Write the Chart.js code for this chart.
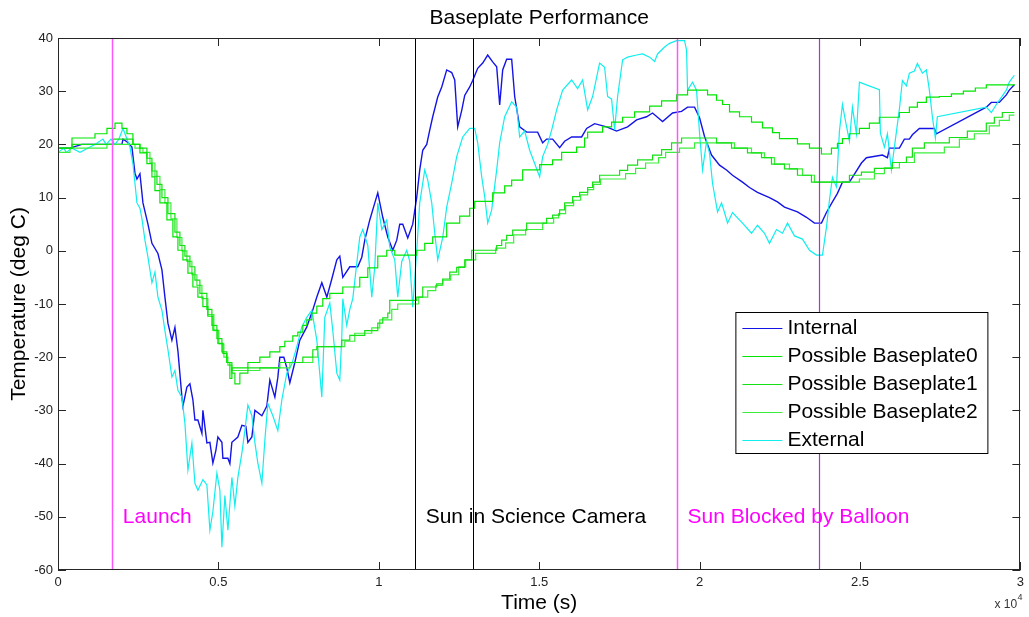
<!DOCTYPE html>
<html>
<head>
<meta charset="utf-8">
<script src="https://cdn.jsdelivr.net/npm/chart.js@4.4.1/dist/chart.umd.min.js"></script>
<style>
html,body{margin:0;padding:0;background:#fff;}
#wrap{width:1029px;height:617px;position:relative;}
</style>
</head>
<body>
<div id="wrap"><canvas id="c"></canvas></div>
<script>
// ---- data: [time (s), temperature (deg C)] ----
const internal = [[0,19.3],[374,19.3],[748,20],[1994,20],[2025,21],[2149,20.5],[2305,19.5],[2399,14.6],[2461,13.5],[2554,14.5],[2648,9],[2804,5],[2928,1.4],[3115,-0.5],[3240,-3.6],[3333,-8.7],[3427,-13.6],[3551,-16.8],[3645,-14.4],[3738,-18.8],[3863,-27.5],[3894,-29.2],[4018,-25.6],[4112,-25],[4205,-28],[4268,-31.8],[4361,-31.8],[4486,-34.3],[4517,-30],[4641,-36.1],[4735,-36],[4828,-39.9],[4922,-37.5],[4984,-35],[5109,-36],[5140,-39],[5296,-39],[5358,-40],[5420,-36],[5607,-35],[5732,-32.8],[5856,-33],[5919,-36],[6043,-35],[6137,-30],[6355,-31],[6510,-29.2],[6604,-24.3],[6760,-27.5],[6853,-23.8],[6915,-20],[7040,-20],[7133,-22],[7227,-24.8],[7383,-21],[7538,-16.8],[7756,-14.3],[7943,-11.1],[8068,-8.7],[8224,-6],[8380,-8.7],[8535,-5.3],[8691,-1.7],[8784,-1],[8878,-5],[9096,-3],[9345,-3],[9470,-1.2],[9563,2],[9719,5.8],[9875,9],[9968,10.9],[10124,6.3],[10280,2.6],[10435,0.1],[10560,2],[10653,5],[10747,5],[10903,2.4],[11058,5],[11183,10.1],[11276,15.2],[11370,18.9],[11494,20],[11588,22.7],[11681,25.2],[11837,28.9],[11962,30.8],[12117,34],[12273,33.5],[12367,32.1],[12460,23.3],[12585,26.4],[12678,29.2],[12834,30.8],[12927,32],[13083,34.3],[13239,35.3],[13395,36.8],[13550,35.5],[13675,34.6],[13768,27.4],[13862,34],[13986,36],[14142,36],[14236,29],[14391,23.3],[14609,22.3],[14952,22.3],[15108,20.3],[15232,21],[15419,21],[15637,19.4],[15793,20.6],[16011,21.4],[16323,21.4],[16478,23],[16728,23.9],[17101,23.3],[17413,22.5],[17756,23.3],[18036,24.6],[18347,25.2],[18534,25.9],[18846,24.3],[19157,25.9],[19438,26.2],[19625,27],[19843,27],[19999,25],[20154,21.5],[20372,18],[20621,16.1],[20839,15.2],[21026,14.2],[21338,12.9],[21556,11.9],[21805,11],[22178,10],[22428,9.2],[22646,8.2],[23051,7.3],[23332,6.3],[23581,5.2],[23799,5.2],[23954,7.2],[24141,9.2],[24297,10.8],[24453,12.9],[24671,12.9],[25045,16.5],[25200,17.5],[25699,18],[25855,17.5],[25917,19.3],[26229,19.3],[26384,21],[26540,21],[26633,21.8],[26851,23],[27319,23],[27381,22],[28938,27],[29094,27.9],[29344,27.9],[29561,29.3],[29655,30.2],[29811,31.2]];

const baseplate0 = [[0,19.3],[436,21.2],[1153,22],[1526,23],[1776,24],[1994,23],[2149,22],[2336,20],[2554,18.4],[2772,16.4],[2928,13.9],[3022,11.3],[3177,9],[3395,5.8],[3582,2.6],[3738,0.1],[3894,-1.7],[4050,-4.2],[4205,-6.8],[4361,-8.7],[4517,-10.5],[4672,-12.3],[4828,-14.9],[4984,-17.4],[5140,-19.3],[5264,-21],[5358,-24],[5420,-22],[5919,-21],[6292,-20],[6604,-19],[6915,-18],[7071,-17],[7320,-16],[7476,-15.3],[7632,-14],[7756,-13],[7912,-11.7],[8068,-10.4],[8255,-9],[8473,-8],[8878,-6.8],[9407,-5],[9657,-3.2],[9968,-1],[10248,0.1],[10498,-0.8],[11183,0.1],[11432,1.4],[11681,2.6],[12117,5.2],[12522,6.5],[12834,8],[12990,9.3],[13550,10.9],[13924,12.2],[14142,13.3],[14485,15.2],[15014,16.2],[15419,17.1],[15700,18.5],[16167,19.5],[16416,21.2],[16510,22.3],[16977,23.3],[17257,24.2],[17600,25.1],[17974,26.1],[18441,27.2],[18815,28.2],[19282,29.3],[19625,30.2],[20248,29.3],[20528,28.3],[20715,27.5],[20933,26.1],[21245,25.2],[21618,24.2],[21961,23.1],[22272,22.2],[22490,21.1],[23051,20.1],[23425,19.3],[23799,18.2],[24110,19.3],[24297,20.2],[24453,21.1],[24671,22],[24982,23],[25294,24],[25605,25.1],[26229,26],[26540,27],[26789,27.9],[27069,28.9],[27474,29],[27848,29.5],[28222,30],[28596,30.6],[28938,31.2],[29811,31.3]];

const baseplate1 = [[0,19.3],[436,20],[1526,20],[1713,21],[2149,21],[2336,20],[2554,19.3],[2772,17.4],[2928,15],[3084,12.5],[3240,10],[3427,7],[3645,3.5],[3800,1],[3956,-1],[4112,-3],[4268,-5.5],[4423,-8],[4641,-11],[4797,-14],[4953,-16.5],[5109,-19],[5264,-21],[5420,-23],[5514,-25],[5669,-23],[5919,-22],[6915,-21],[7632,-20],[7943,-18.6],[8068,-18],[8847,-16.8],[9096,-15.9],[9563,-15],[9968,-13.6],[10124,-12.6],[10280,-11.7],[10342,-9.3],[11183,-8.7],[11370,-6.8],[11806,-6.2],[11993,-5.3],[12211,-4],[12429,-3.1],[12678,-1.7],[12896,0.1],[13675,1],[13831,2],[13986,2.9],[14174,3.9],[14609,5.2],[15232,6.1],[15419,6.7],[15637,7.7],[15793,9],[16042,10.2],[16260,11],[16510,11.9],[16665,12.9],[16883,14.2],[17506,15.1],[17756,16.1],[18067,17.1],[18534,18],[18815,19],[19126,20.3],[19438,21.2],[20528,20.3],[20995,19.3],[21493,18.4],[21930,17.5],[22241,16.3],[22646,15.4],[23051,14.2],[23487,12.9],[24671,14.2],[25045,14.8],[25450,15.5],[26010,16.6],[26447,17.6],[26633,19.3],[27007,20.3],[27785,21.3],[28347,22.5],[28938,24],[29188,25.1],[29437,26],[29811,26]];

const baseplate2 = [[0,18.5],[374,19.3],[1308,19.3],[1526,20],[2243,20],[2399,19.3],[2648,18.5],[2866,16.5],[3022,14],[3177,11.5],[3333,9],[3520,6],[3707,2.5],[3863,0],[4018,-2],[4174,-4.5],[4330,-6.5],[4486,-9],[4672,-12],[4859,-15],[5015,-17.5],[5171,-20],[5296,-21.5],[5420,-22.5],[6292,-22],[7227,-21],[7943,-20],[8099,-18],[8940,-17],[9251,-15.5],[9781,-14.5],[10030,-13],[10404,-11],[10591,-10],[11245,-8.7],[11526,-7.5],[11775,-6.5],[11993,-5.5],[12242,-4.5],[12491,-3],[12709,-1.7],[13021,-0.5],[13644,0.5],[13955,1.5],[14205,3],[14578,4],[15108,5.2],[15450,6.2],[15606,7],[15824,8.5],[16073,9.5],[16292,10.5],[16510,11.5],[16697,12.5],[16914,13.5],[17693,14.5],[18005,15.5],[18316,16.5],[18721,17.5],[18940,18.5],[19375,19.3],[19843,20.3],[21089,19.3],[21618,18.4],[22023,17.5],[22335,16.3],[22802,15.4],[23207,14.2],[23581,12.9],[24982,13.5],[25450,14.5],[25761,15.6],[26229,16.6],[26696,18.4],[27630,19.5],[28098,21],[28565,22],[29032,23.5],[29344,24.5],[29655,25.5],[29811,25.5]];

const external = [[0,18.5],[186,19.3],[250,18.5],[436,19.3],[685,18.5],[1000,19.5],[1153,20],[1400,21],[1500,20],[1651,21],[1776,20],[1900,21],[2025,23],[2150,21],[2243,19.5],[2336,16.4],[2461,9],[2554,8],[2617,6],[2710,2],[2804,-1.2],[2928,-6],[3022,-4],[3115,-8.7],[3240,-11.2],[3333,-15],[3427,-18.6],[3551,-23.7],[3645,-22.5],[3738,-26.2],[3863,-27.5],[3956,-32.4],[4050,-41.2],[4174,-36.1],[4268,-43.7],[4361,-45],[4517,-43],[4641,-44],[4735,-52.5],[4828,-49],[4953,-41.8],[5046,-45],[5109,-55.7],[5202,-46],[5296,-52.5],[5420,-42.6],[5514,-48],[5607,-42.6],[5732,-38],[5825,-33.8],[5919,-29],[6043,-31],[6137,-36],[6230,-39.9],[6355,-43.7],[6448,-35.6],[6542,-28.7],[6697,-31],[6853,-33.8],[6978,-28],[7133,-23],[7289,-21.3],[7445,-18],[7601,-14.3],[7756,-12.5],[7912,-11.2],[8068,-16.8],[8224,-27.5],[8317,-12.5],[8473,-9.8],[8566,-15],[8691,-23],[8784,-24.3],[8847,-16],[8878,-9],[9002,-14],[9096,-11],[9189,-9],[9407,2.6],[9501,4],[9657,1],[9781,-8.7],[9875,-3],[9968,9],[10093,4],[10248,5.8],[10342,0.7],[10498,-1.7],[10591,-8.7],[10716,-2],[10871,0.1],[10965,-2],[11058,-10.6],[11183,0],[11276,9],[11432,15.2],[11526,13.3],[11650,9],[11744,3.3],[11837,-1.7],[11993,2.5],[12117,8.2],[12273,12.7],[12429,17.7],[12616,21.4],[12834,23],[12990,23],[13083,20.3],[13208,13.9],[13301,10.2],[13395,5.2],[13519,7.7],[13675,15.2],[13768,20.3],[13924,25.2],[14142,28],[14298,27],[14391,21.4],[14547,22.5],[14703,18.9],[14859,16.4],[15014,13.9],[15108,17.7],[15264,20],[15388,22.7],[15544,26.5],[15731,30.2],[16011,32.1],[16198,30.5],[16354,32.1],[16510,26.5],[16665,29],[16883,35.3],[17039,34.5],[17133,29],[17257,28.5],[17351,22.7],[17444,29],[17600,35.9],[17756,36.4],[18036,36.8],[18223,37],[18441,36.4],[18597,35.6],[18690,37],[18908,38.3],[19064,39],[19282,39.5],[19531,39.5],[19594,37.7],[19625,30.2],[19780,31.7],[19905,30.2],[19999,22.1],[20092,15.2],[20217,20.5],[20310,18.3],[20403,12.7],[20559,7.3],[20684,9],[20777,7.2],[20871,5.2],[21026,7.2],[21182,6.2],[21338,5.2],[21618,3.3],[21805,4.8],[22023,3.3],[22178,1.4],[22397,4],[22584,3.3],[22740,5.2],[22958,2.8],[23207,2.2],[23425,0.1],[23643,-0.8],[23830,-0.8],[23954,4.4],[24048,9.5],[24141,13.8],[24266,12],[24359,22.5],[24453,27.5],[24577,23.5],[24671,20.6],[24764,27],[24889,22],[24982,31.7],[25200,31.2],[25605,30.3],[25636,22.1],[25761,19.5],[25855,22],[25979,15.2],[26073,19.5],[26229,26.7],[26322,32],[26447,31],[26540,33.4],[26696,33.8],[26789,35.2],[26945,33.4],[27069,34],[27163,30.2],[27256,25.2],[27350,21.2],[27412,25.2],[28938,27],[29094,26],[29250,27.5],[29561,30.2],[29655,31.7],[29811,33]];

const seriesLabels = ['Internal','Possible Baseplate0','Possible Baseplate1','Possible Baseplate2','External'];
const eventTimes = [1682, 11121, 12928, 19283, 23707];
const eventTexts = ['Launch','Sun in Science Camera','Sun Blocked by Balloon'];
const eventTextTimes = [2022, 11461, 19623];
const eventTextTemp = -50;
const xTicks = [0, 5000, 10000, 15000, 20000, 25000, 30000];
const yTicks = [-60, -50, -40, -30, -20, -10, 0, 10, 20, 30, 40];

// ---- styles ----
const FONT = '"Liberation Sans", Arial, Helvetica, sans-serif';
const colors = ['#1414e6', '#00e600', '#14e014', '#3cee3c', '#10eeee'];
const eventColors = ['#ff55ff', '#000000', '#000000', '#ff55ff', '#b030d8'];
const eventWidths = [1.5, 1, 1, 1.5, 1.2];
const eventTextColors = ['#ff00ff', '#000000', '#ff00ff'];

const toXY = arr => arr.map(p => ({x: p[0], y: p[1]}));
const allSeries = [internal, baseplate0, baseplate1, baseplate2, external];
const stepped = [false, true, true, true, false];
const drawOrder = [4, 0, 1, 2, 3];

const datasets = allSeries.map((s, i) => ({
  label: seriesLabels[i],
  data: toXY(s),
  borderColor: colors[i],
  backgroundColor: colors[i],
  borderWidth: i === 0 ? 1.4 : 1.2,
  pointRadius: 0,
  tension: 0,
  stepped: stepped[i],
  fill: false,
  order: drawOrder[i]
}));

const overlay = {
  id: 'overlay',
  afterDatasetsDraw(chart) {
    const {ctx, chartArea: a, scales: {x, y}} = chart;
    ctx.save();
    // event lines
    eventTimes.forEach((t, i) => {
      const px = Math.round(x.getPixelForValue(t)) + 0.5;
      ctx.strokeStyle = eventColors[i];
      ctx.lineWidth = eventWidths[i];
      ctx.beginPath(); ctx.moveTo(px, a.top); ctx.lineTo(px, a.bottom); ctx.stroke();
    });
    // event labels
    ctx.font = '21px ' + FONT;
    ctx.textBaseline = 'middle';
    ctx.textAlign = 'left';
    eventTexts.forEach((s, i) => {
      ctx.fillStyle = eventTextColors[i];
      ctx.fillText(s, x.getPixelForValue(eventTextTimes[i]), y.getPixelForValue(eventTextTemp));
    });
    // frame
    ctx.strokeStyle = '#262626';
    ctx.lineWidth = 1;
    ctx.strokeRect(Math.round(a.left) + 0.5, Math.round(a.top) + 0.5, Math.round(a.width) - 1, Math.round(a.height) - 1);
    // inward ticks
    const tl = 8;
    ctx.beginPath();
    xTicks.forEach(v => {
      const px = Math.round(x.getPixelForValue(v)) + 0.5;
      ctx.moveTo(px, a.bottom); ctx.lineTo(px, a.bottom - tl);
      ctx.moveTo(px, a.top); ctx.lineTo(px, a.top + tl);
    });
    yTicks.forEach(v => {
      const py = Math.round(y.getPixelForValue(v)) + 0.5;
      ctx.moveTo(a.left, py); ctx.lineTo(a.left + tl, py);
      ctx.moveTo(a.right, py); ctx.lineTo(a.right - tl, py);
    });
    ctx.stroke();
    // title
    ctx.fillStyle = '#000';
    ctx.font = '21px ' + FONT;
    ctx.textAlign = 'center';
    ctx.fillText('Baseplate Performance', (a.left + a.right) / 2, 18);
    // x 10^4 multiplier
    ctx.fillStyle = '#333';
    ctx.textAlign = 'left';
    ctx.font = '12px ' + FONT;
    ctx.fillText('x 10', a.right - 26, 605);
    ctx.font = '9px ' + FONT;
    ctx.fillText('4', a.right - 3, 598);
    // legend
    const lx = a.right - 285, ly = a.bottom - 258, lw = 252, lh = 141;
    ctx.fillStyle = '#fff';
    ctx.fillRect(lx, ly, lw, lh);
    ctx.strokeStyle = '#000';
    ctx.strokeRect(lx + 0.5, ly + 0.5, lw, lh);
    ctx.font = '21px ' + FONT;
    ctx.textBaseline = 'middle';
    chart.data.datasets.forEach((d, i) => {
      const ry = ly + 16 + i * 28;
      ctx.strokeStyle = d.borderColor;
      ctx.lineWidth = 1.2;
      ctx.beginPath(); ctx.moveTo(lx + 7, ry + 0.5); ctx.lineTo(lx + 47, ry + 0.5); ctx.stroke();
      ctx.fillStyle = '#000';
      ctx.fillText(d.label, lx + 52, ry);
    });
    ctx.restore();
  }
};

new Chart(document.getElementById('c'), {
  type: 'line',
  data: {datasets},
  plugins: [overlay],
  options: {
    responsive: true,
    maintainAspectRatio: false,
    animation: false,
    layout: {padding: {top: 38, right: 8, left: 0, bottom: 0}},
    plugins: {legend: {display: false}, title: {display: false}, tooltip: {enabled: false}},
    scales: {
      x: {
        type: 'linear', min: 0, max: 30000,
        afterBuildTicks: s => { s.ticks = xTicks.map(v => ({value: v})); },
        afterFit: s => { s.height = 47; },
        grid: {display: false, drawTicks: false},
        border: {display: false},
        ticks: {padding: 5, color: '#222', font: {family: FONT, size: 13}, maxRotation: 0,
          callback: v => String(v / 10000)},
        title: {display: true, text: 'Time (s)', color: '#000', font: {family: FONT, size: 21, lineHeight: 1.2}, padding: {top: 0, bottom: 1}}
      },
      y: {
        type: 'linear', min: -60, max: 40,
        afterBuildTicks: s => { s.ticks = yTicks.map(v => ({value: v})); },
        afterFit: s => { s.width = 58; },
        grid: {display: false, drawTicks: false},
        border: {display: false},
        ticks: {padding: 5, color: '#222', font: {family: FONT, size: 13}},
        title: {display: true, text: 'Temperature (deg C)', color: '#000', font: {family: FONT, size: 21, lineHeight: 1.2}, padding: {top: 7, bottom: 0}}
      }
    }
  }
});
</script>
</body>
</html>
